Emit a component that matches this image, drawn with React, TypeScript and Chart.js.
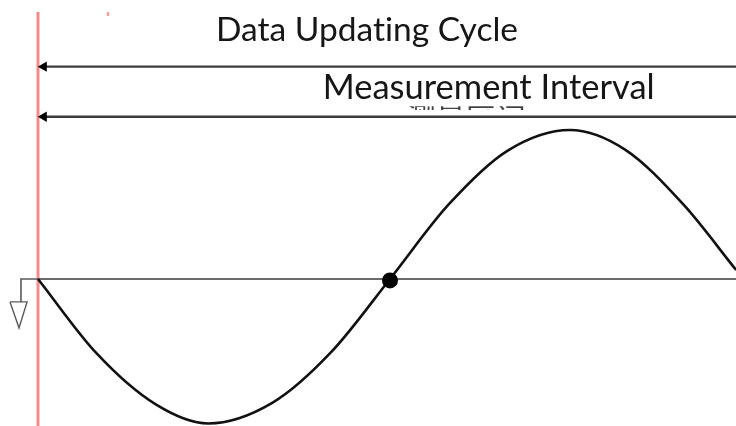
import React, { useEffect, useRef } from "react";
import { Chart, registerables } from "chart.js";
Chart.register(...registerables);

// Signal: phase (degrees) vs normalized amplitude
const wavePhase = [0, 30, 60, 87, 120, 150, 180, 210, 240, 272, 300, 330, 357];
const waveValue = [0, -0.5, -0.84, -0.97, -0.83, -0.49, 0, 0.5, 0.86, 1.0, 0.87, 0.5, 0.06];

// Sampling point on the zero crossing
const crossingPhase = [180];
const crossingValue = [-0.01];

// Arrows (measured intervals) and their labels
const arrowLevels = [1.425, 1.089];
const arrowLabels = ["Data Updating Cycle", "Measurement Interval"];
const labelPhase = [91.0, 145.6];
const labelValue = [1.597, 1.206];
const hiddenLabel = ["测量区间"];
const hiddenLabelPhase = [188.0];

// Reference (ground) symbol
const groundPhase = [0, -8.7, -8.7];
const groundValue = [0, 0, -0.154];
const groundTriPhase = [-14.3, -5.6, -9.7, -14.3];
const groundTriValue = [-0.154, -0.154, -0.329, -0.154];

// Start marker (red) extent
const markerPhase = [0];
const markerValue = [-0.987, 1.792];
const tickPhase = [35.8];
const tickValue = [1.765, 1.792];

// Axis ranges
const phaseRange = [-19.43, 356.93];
const valueRange = [-0.987, 1.8725];

const labelWidths = [302, 332];

const labelPlugin = {
  id: "diagramLabels",
  afterDatasetsDraw(chart: any) {
    const { ctx } = chart;
    const xs = chart.scales.x;
    const ys = chart.scales.y;
    ctx.save();
    ctx.fillStyle = "#161616";
    ctx.textAlign = "left";
    ctx.textBaseline = "alphabetic";
    try {
      (ctx as any).letterSpacing = "0.01px";
    } catch (e) {}
    arrowLabels.forEach((t, i) => {
      ctx.font = "100px Lato, 'Open Sans', sans-serif";
      const w = ctx.measureText(t).width;
      const size = (100 * labelWidths[i]) / w;
      ctx.font = `${size}px Lato, 'Open Sans', sans-serif`;
      ctx.fillText(t, xs.getPixelForValue(labelPhase[i]), ys.getPixelForValue(labelValue[i]));
    });
    // clipped remnant of the original Chinese label
    const cx = xs.getPixelForValue(hiddenLabelPhase[0]);
    const top = ys.getPixelForValue(1.16);
    const bottom = ys.getPixelForValue(1.134);
    ctx.beginPath();
    ctx.rect(cx - 5, top, 130, bottom - top);
    ctx.clip();
    ctx.font = "30px 'Noto Sans CJK SC', sans-serif";
    ctx.textBaseline = "top";
    ctx.fillStyle = "#444";
    ctx.fillText(hiddenLabel[0], cx, top - 4);
    ctx.restore();
  },
};

export default function App() {
  const ref = useRef<HTMLCanvasElement>(null);
  useEffect(() => {
    if (!ref.current) return;
    const far = phaseRange[1] + 10;
    const chart = new Chart(ref.current, {
      type: "line",
      data: {
        datasets: [
          {
            data: wavePhase.map((p, i) => ({ x: p, y: waveValue[i] })),
            borderColor: "#111",
            borderWidth: 2.6,
            pointRadius: 0,
            cubicInterpolationMode: "monotone",
            order: 2,
          } as any,
          {
            data: crossingPhase.map((p, i) => ({ x: p, y: crossingValue[i] })),
            showLine: false,
            pointRadius: 8,
            pointBackgroundColor: "#000",
            pointBorderWidth: 0,
            order: 0,
          },
          {
            data: [
              { x: 0, y: 0 },
              { x: far, y: 0 },
            ],
            borderColor: "#6a6a6a",
            borderWidth: 2,
            pointRadius: 0,
            order: 3,
          },
          ...arrowLevels.map((lvl) => ({
            data: [
              { x: 2, y: lvl },
              { x: far, y: lvl },
            ],
            borderColor: "#3c3c3c",
            borderWidth: 2.4,
            pointRadius: 0,
            order: 3,
          })),
          {
            data: arrowLevels.map((lvl) => ({ x: 2.97, y: lvl })),
            showLine: false,
            pointStyle: "triangle",
            pointRotation: -90,
            pointRadius: 6,
            pointBackgroundColor: "#000",
            pointBorderWidth: 0,
            order: 1,
          },
          {
            data: groundPhase.map((p, i) => ({ x: p, y: groundValue[i] })),
            borderColor: "#5a5a5a",
            borderWidth: 1.6,
            pointRadius: 0,
            order: 3,
          },
          {
            data: groundTriPhase.map((p, i) => ({ x: p, y: groundTriValue[i] })),
            borderColor: "#5a5a5a",
            borderWidth: 1.4,
            pointRadius: 0,
            fill: false,
            order: 3,
          },
          {
            data: markerValue.map((v) => ({ x: markerPhase[0], y: v })),
            borderColor: "#f58a8a",
            borderWidth: 3,
            pointRadius: 0,
            order: 10,
          },
          {
            data: tickValue.map((v) => ({ x: tickPhase[0], y: v })),
            borderColor: "#f7a0a0",
            borderWidth: 2.5,
            pointRadius: 0,
            order: 10,
          },
        ],
      },
      options: {
        animation: false,
        responsive: false,
        events: [],
        layout: { padding: 0, autoPadding: false },
        plugins: { legend: { display: false }, tooltip: { enabled: false } },
        scales: {
          x: { type: "linear", min: phaseRange[0], max: phaseRange[1], display: false },
          y: { type: "linear", min: valueRange[0], max: valueRange[1], display: false },
        },
      },
      plugins: [labelPlugin],
    });
    return () => chart.destroy();
  }, []);
  return (
    <div style={{ position: "fixed", left: 0, top: 0, width: 736, height: 426, background: "#fff" }}>
      <canvas ref={ref} width={736} height={426} style={{ width: 736, height: 426 }} />
    </div>
  );
}
